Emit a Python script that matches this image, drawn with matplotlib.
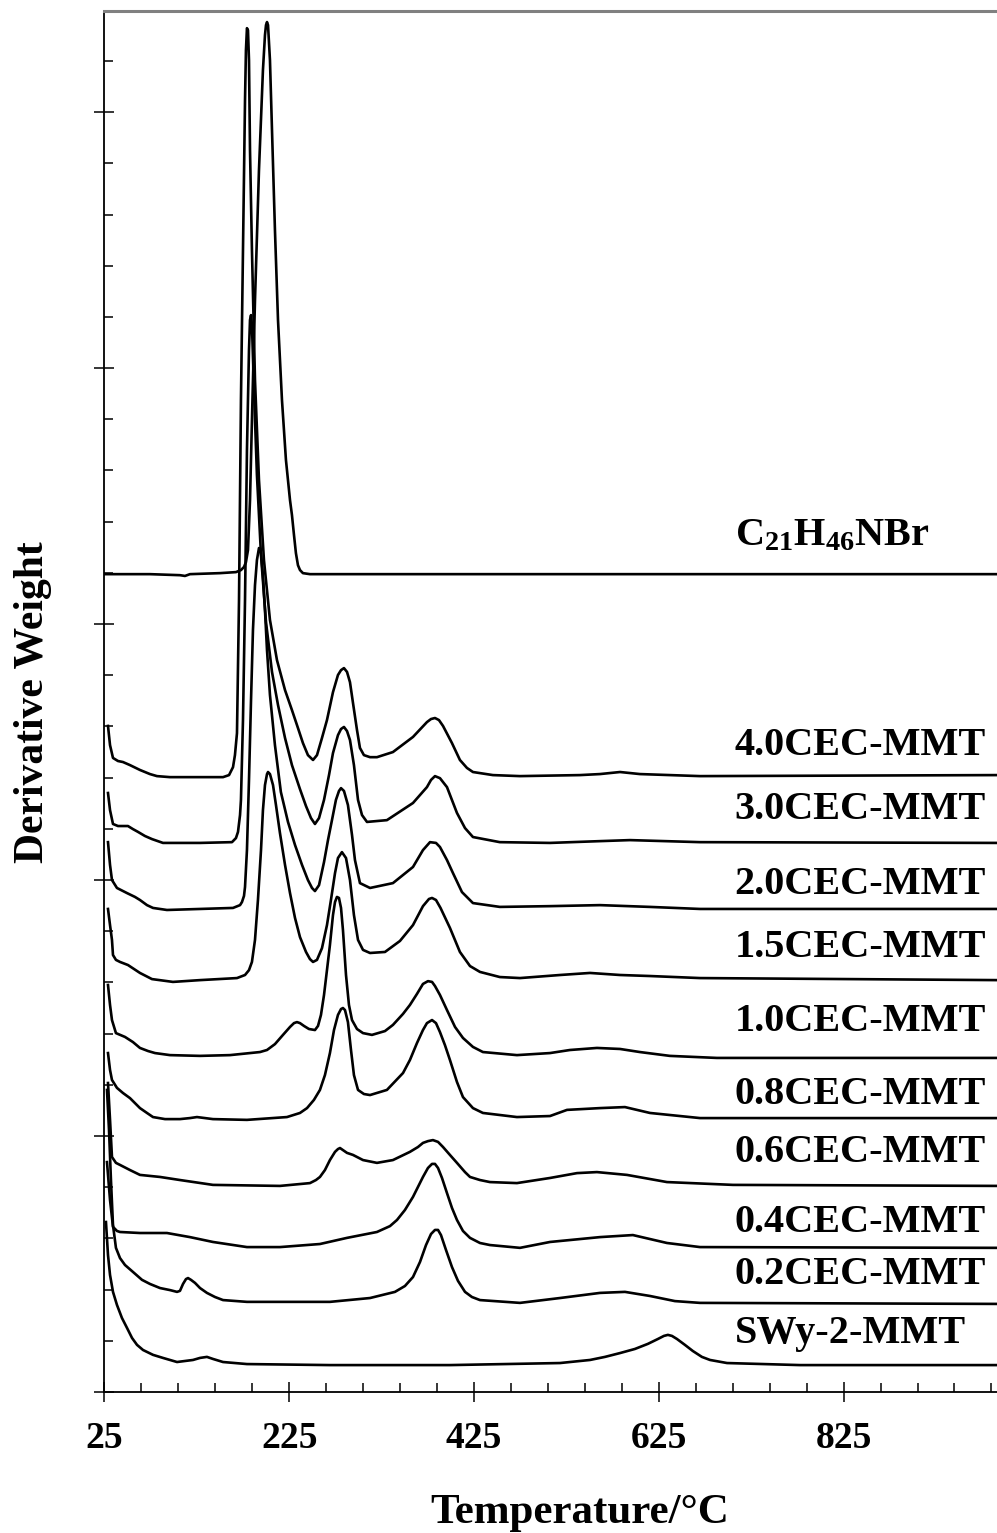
import matplotlib.pyplot as plt
import numpy as np

plt.rcParams['font.family'] = ['Liberation Serif', 'DejaVu Serif']
plt.rcParams['font.weight'] = 'bold'
plt.rcParams['mathtext.fontset'] = 'custom'
plt.rcParams['mathtext.rm'] = 'Liberation Serif:bold'
plt.rcParams['mathtext.it'] = 'Liberation Serif:bold'
plt.rcParams['mathtext.bf'] = 'Liberation Serif:bold'
plt.rcParams['mathtext.default'] = 'rm'

# DTG curves, stacked (temperature in degC, derivative weight in a.u.)
t_c21 = [25.5, 74.2, 106.7, 112.1, 117.5, 150.0, 167.3, 172.7, 176.0, 178.1, 180.3, 182.5, 184.6, 187.9,
         192.2, 196.5, 198.7, 199.8, 200.9, 202.0, 204.1, 206.3, 209.5, 212.8, 217.1, 221.4, 225.8,
         227.9, 230.1, 232.2, 234.4, 236.6, 239.8, 247.4, 991]
y_c21 = [31.95, 31.95, 31.91, 31.88, 31.95, 31.99, 32.03, 32.11, 32.23, 32.42, 32.89, 34.84, 37.97, 42.66,
         47.73, 51.64, 53.01, 53.40, 53.52, 53.40, 52.03, 49.30, 45.39, 41.88, 38.75, 36.41, 34.84,
         34.26, 33.48, 32.77, 32.30, 32.11, 31.99, 31.95, 31.95]

t_40 = [28.8, 31.0, 34.2, 39.6, 45.0, 52.6, 63.4, 74.2, 81.8, 95.9, 128.4, 153.3, 159.8, 164.1, 166.2,
        168.4, 170.6, 172.7, 174.9, 177.1, 178.1, 179.2, 180.3, 181.4, 182.5, 184.6, 187.9, 192.2,
        197.6, 204.1, 211.7, 220.4, 227.9, 234.4, 239.8, 245.2, 250.7, 255.0, 260.4, 265.8, 272.3,
        277.7, 281.0, 284.2, 287.5, 290.7, 294.0, 298.3, 301.5, 305.8, 312.4, 319.9, 337.2, 358.9,
        374.0, 378.4, 382.7, 387.0, 391.4, 401.1, 409.7, 417.3, 423.8, 445.4, 474.7, 539.6, 561.3,
        583.0, 604.5, 669.6, 991]
y_40 = [26.02, 25.27, 24.77, 24.65, 24.61, 24.49, 24.30, 24.14, 24.06, 24.02, 24.02, 24.02, 24.10, 24.41, 24.88,
        25.74, 30.94, 38.75, 44.61, 50.47, 52.42, 53.28, 53.20, 52.03, 48.52, 44.61, 39.53, 35.63,
        32.50, 30.16, 28.59, 27.42, 26.64, 25.94, 25.35, 24.88, 24.69, 24.88, 25.55, 26.25, 27.34,
        28.01, 28.20, 28.28, 28.13, 27.73, 26.91, 25.86, 25.16, 24.88, 24.80, 24.80, 25.0, 25.59,
        26.17, 26.29, 26.33, 26.25, 26.02, 25.35, 24.69, 24.38, 24.22, 24.10, 24.06, 24.10, 24.14,
        24.22, 24.14, 24.06, 24.10]

t_30 = [28.8, 31.0, 34.2, 39.6, 45.0, 50.4, 55.8, 61.3, 68.8, 76.4, 88.3, 128.4, 163.0, 167.3, 169.5,
        171.7, 172.7, 174.9, 177.1, 179.2, 181.4, 182.5, 183.6, 184.6, 186.8, 190.0, 194.4, 199.8,
        206.3, 212.8, 220.4, 227.9, 236.6, 243.1, 248.5, 252.8, 257.2, 262.6, 268.0, 272.3, 277.7,
        281.0, 284.2, 287.5, 290.7, 295.0, 299.4, 303.7, 309.1, 330.7, 358.9, 374.0, 378.4, 382.7,
        388.1, 395.7, 406.5, 415.2, 423.8, 452.9, 507.2, 561.3, 593.7, 669.6, 991]
y_30 = [23.40, 22.73, 22.19, 22.11, 22.11, 22.11, 21.99, 21.88, 21.72, 21.60, 21.45, 21.45, 21.48, 21.64, 21.88,
        22.54, 23.13, 26.25, 30.94, 36.80, 40.70, 41.88, 42.07, 41.68, 39.14, 35.82, 32.70, 30.08,
        28.13, 26.84, 25.55, 24.49, 23.55, 22.89, 22.42, 22.19, 22.42, 23.13, 24.10, 24.96, 25.66,
        25.90, 25.98, 25.82, 25.47, 24.49, 23.13, 22.54, 22.27, 22.34, 23.01, 23.63, 23.91, 24.06,
        23.98, 23.63, 22.62, 22.03, 21.68, 21.48, 21.45, 21.52, 21.56, 21.48, 21.45]

t_20 = [28.8, 31.0, 33.1, 38.5, 49.4, 58.0, 63.4, 71.0, 77.5, 92.6, 164.1, 171.7, 173.8, 176.0, 177.1,
        179.2, 181.4, 183.6, 185.7, 187.9, 190.0, 192.2, 194.4, 196.5, 198.7, 200.9, 204.1, 209.5,
        215.9, 223.6, 231.2, 238.8, 245.2, 249.6, 252.8, 257.2, 262.6, 266.9, 271.2, 275.5, 278.8,
        281.0, 284.2, 288.5, 292.9, 296.1, 301.5, 312.4, 337.2, 358.9, 369.7, 377.3, 383.8, 388.1,
        395.7, 402.2, 411.9, 423.8, 452.9, 507.2, 561.3, 615.4, 669.6, 991]
y_20 = [21.48, 20.59, 20.0, 19.69, 19.49, 19.34, 19.22, 19.02, 18.91, 18.83, 18.91, 19.02, 19.14, 19.38, 19.73,
        21.17, 23.91, 27.03, 29.77, 31.52, 32.50, 32.97, 32.77, 31.91, 30.55, 28.98, 27.23, 25.27,
        23.44, 22.27, 21.37, 20.59, 20.0, 19.69, 19.57, 19.80, 20.70, 21.56, 22.34, 23.13, 23.48,
        23.59, 23.48, 22.93, 21.76, 20.78, 19.88, 19.69, 19.88, 20.51, 21.17, 21.48, 21.45, 21.29,
        20.78, 20.27, 19.53, 19.10, 18.95, 18.98, 19.02, 18.95, 18.87, 18.87]

t_15 = [28.8, 31.0, 33.1, 34.2, 37.4, 41.8, 50.4, 63.4, 76.4, 99.1, 128.4, 168.4, 177.1, 181.4, 184.6,
        187.9, 191.1, 194.4, 196.5, 198.7, 200.9, 202.0, 204.1, 207.4, 210.6, 214.9, 220.4, 225.8,
        231.2, 236.6, 243.1, 247.4, 250.7, 255.0, 260.4, 265.8, 270.1, 274.5, 277.7, 282.0, 286.4,
        290.7, 295.0, 299.4, 304.8, 312.4, 328.6, 344.8, 358.9, 369.7, 376.2, 379.5, 383.8, 388.7,
        398.9, 409.7, 420.6, 431.4, 452.9, 474.7, 518.0, 550.5, 583.0, 615.4, 669.6, 991]
y_15 = [18.87, 18.24, 17.66, 17.07, 16.88, 16.80, 16.68, 16.37, 16.13, 16.02, 16.09, 16.17, 16.29, 16.48, 16.80,
        17.66, 19.22, 21.17, 22.73, 23.71, 24.14, 24.22, 24.14, 23.71, 22.93, 21.84, 20.59, 19.49,
        18.52, 17.77, 17.19, 16.91, 16.80, 16.88, 17.34, 18.24, 19.22, 20.27, 20.86, 21.09, 20.86,
        20.0, 18.63, 17.66, 17.27, 17.15, 17.19, 17.62, 18.24, 18.98, 19.26, 19.30, 19.22, 18.91,
        18.13, 17.19, 16.64, 16.41, 16.21, 16.17, 16.29, 16.37, 16.29, 16.25, 16.17, 16.09]

t_10 = [28.8, 31.0, 33.1, 37.4, 47.2, 55.8, 63.4, 72.1, 79.7, 95.9, 128.4, 160.8, 182.5, 193.3, 200.9,
        209.5, 218.2, 225.8, 230.1, 233.3, 236.6, 240.9, 246.3, 252.8, 256.1, 259.3, 262.6, 265.8,
        269.0, 272.3, 274.5, 276.6, 278.8, 281.0, 283.1, 286.4, 289.6, 292.9, 298.3, 304.8, 314.5,
        328.6, 337.2, 348.1, 355.6, 363.2, 369.7, 375.1, 379.5, 382.7, 388.1, 395.7, 404.4, 413.0,
        423.8, 434.6, 471.4, 507.2, 528.8, 558.0, 583.0, 604.5, 636.9, 687.8, 991]
y_10 = [15.90, 15.12, 14.53, 14.02, 13.87, 13.67, 13.44, 13.32, 13.24, 13.16, 13.13, 13.16, 13.24, 13.28, 13.36,
        13.59, 13.95, 14.26, 14.41, 14.45, 14.41, 14.30, 14.18, 14.14, 14.30, 14.73, 15.51, 16.48,
        17.46, 18.63, 19.14, 19.34, 19.30, 18.91, 18.05, 16.29, 15.12, 14.53, 14.18, 14.02, 13.95,
        14.10, 14.34, 14.77, 15.12, 15.55, 15.94, 16.05, 16.02, 15.86, 15.51, 14.92, 14.26, 13.83,
        13.48, 13.28, 13.16, 13.24, 13.36, 13.44, 13.40, 13.28, 13.13, 13.05, 13.05]

t_08 = [28.8, 31.0, 33.1, 38.5, 45.0, 52.6, 63.4, 71.0, 77.5, 90.5, 106.7, 117.5, 125.1, 133.8, 142.4,
        179.2, 222.5, 236.6, 244.2, 251.7, 258.2, 263.6, 269.0, 273.4, 277.7, 281.0, 283.1, 285.3,
        288.5, 291.8, 295.0, 299.4, 305.8, 312.4, 330.7, 348.1, 355.6, 363.2, 369.7, 374.0, 379.5,
        383.8, 388.1, 393.5, 398.9, 406.5, 413.0, 423.8, 434.6, 471.4, 507.2, 525.6, 561.3, 588.3,
        615.4, 669.6, 991]
y_08 = [13.24, 12.58, 12.19, 11.88, 11.68, 11.48, 11.09, 10.90, 10.74, 10.66, 10.66, 10.70, 10.74, 10.70, 10.66,
        10.63, 10.74, 10.90, 11.09, 11.41, 11.80, 12.38, 13.24, 14.14, 14.73, 14.96, 15.0, 14.92,
        14.45, 13.36, 12.38, 11.80, 11.64, 11.60, 11.80, 12.46, 12.97, 13.63, 14.14, 14.41, 14.53,
        14.41, 14.06, 13.55, 12.97, 12.11, 11.52, 11.09, 10.90, 10.74, 10.78, 11.02, 11.09, 11.13,
        10.90, 10.70, 10.70]

t_06 = [28.8, 31.0, 33.1, 37.4, 41.8, 52.6, 63.4, 85.1, 106.7, 142.4, 214.9, 247.4, 253.9, 258.2, 263.6,
        269.0, 274.5, 277.7, 279.9, 283.1, 287.5, 294.0, 304.8, 319.9, 337.2, 355.6, 364.3, 369.7,
        375.1, 380.5, 386.0, 391.4, 398.9, 406.5, 415.2, 420.6, 431.4, 442.2, 471.4, 507.2, 536.4,
        558.0, 590.5, 633.8, 705.2, 991]
y_06 = [12.07, 10.63, 9.18, 8.95, 8.87, 8.67, 8.48, 8.40, 8.28, 8.09, 8.05, 8.16, 8.28, 8.40, 8.67,
        9.06, 9.38, 9.49, 9.53, 9.45, 9.34, 9.26, 9.06, 8.95, 9.06, 9.38, 9.57, 9.73,
        9.80, 9.84, 9.77, 9.57, 9.26, 8.95, 8.59, 8.40, 8.28, 8.20, 8.16, 8.36, 8.55,
        8.59, 8.48, 8.20, 8.09, 8.05]

t_04 = [27.7, 31.0, 34.2, 38.5, 41.8, 63.4, 92.6, 117.5, 142.4, 179.2, 214.9, 258.2, 287.5, 319.9, 334.0,
        341.6, 350.2, 358.9, 364.3, 369.7, 375.1, 379.5, 382.7, 386.0, 390.3, 395.7, 401.1, 406.5,
        413.0, 420.6, 431.4, 442.2, 474.7, 507.2, 561.3, 596.9, 633.8, 669.6, 991]
y_04 = [8.98, 7.50, 6.45, 6.29, 6.25, 6.21, 6.21, 6.05, 5.86, 5.66, 5.66, 5.78, 6.02, 6.25, 6.48,
        6.72, 7.11, 7.62, 8.01, 8.40, 8.75, 8.91, 8.91, 8.75, 8.36, 7.77, 7.19, 6.72,
        6.29, 6.02, 5.82, 5.74, 5.63, 5.86, 6.05, 6.13, 5.82, 5.66, 5.63]

t_02 = [27.7, 29.9, 32.0, 34.2, 37.4, 41.8, 47.2, 55.8, 65.6, 74.2, 85.1, 95.9, 103.5, 106.7, 110.0,
        113.2, 115.4, 118.6, 123.0, 128.4, 135.9, 144.6, 153.3, 179.2, 269.0, 312.4, 339.4, 350.2,
        358.9, 366.5, 373.0, 378.4, 382.7, 386.0, 389.2, 394.6, 401.1, 407.6, 415.2, 422.7, 431.4,
        474.7, 518.0, 561.3, 588.3, 615.4, 642.4, 669.6, 991]
y_02 = [11.80, 10.23, 8.28, 6.52, 5.63, 5.23, 4.96, 4.69, 4.38, 4.22, 4.06, 3.98, 3.91, 3.95, 4.22,
        4.41, 4.45, 4.38, 4.26, 4.06, 3.87, 3.71, 3.59, 3.52, 3.52, 3.67, 3.91, 4.14,
        4.49, 5.08, 5.74, 6.17, 6.33, 6.33, 6.13, 5.55, 4.88, 4.34, 3.91, 3.71, 3.59,
        3.48, 3.67, 3.87, 3.91, 3.75, 3.55, 3.48, 3.44]

t_swy = [26.6, 28.8, 31.0, 34.2, 38.5, 43.9, 49.4, 54.8, 60.2, 66.7, 77.5, 88.3, 103.5, 112.1, 120.8,
         128.4, 135.9, 142.4, 153.3, 179.2, 269.0, 398.9, 518.0, 550.5, 566.7, 583.0, 599.1, 613.2,
         624.0, 630.5, 634.8, 639.2, 644.6, 653.2, 661.8, 671.6, 680.4, 698.8, 777.8, 991]
y_swy = [6.64, 5.35, 4.57, 3.91, 3.40, 2.89, 2.50, 2.11, 1.84, 1.64, 1.45, 1.33, 1.17, 1.21, 1.25,
         1.33, 1.37, 1.29, 1.17, 1.09, 1.05, 1.05, 1.13, 1.25, 1.37, 1.52, 1.68, 1.88,
         2.07, 2.19, 2.23, 2.19, 2.07, 1.84, 1.60, 1.37, 1.25, 1.13, 1.05, 1.05]

labels = ['C$_{21}$H$_{46}$NBr', '4.0CEC-MMT', '3.0CEC-MMT', '2.0CEC-MMT', '1.5CEC-MMT',
          '1.0CEC-MMT', '0.8CEC-MMT', '0.6CEC-MMT', '0.4CEC-MMT', '0.2CEC-MMT', 'SWy-2-MMT']
label_y = [33.09, 24.88, 22.38, 19.45, 16.99, 14.10, 11.25, 8.98, 6.25, 4.22, 1.91]
label_x = 707

curves = [(t_c21, y_c21), (t_40, y_40), (t_30, y_30), (t_20, y_20), (t_15, y_15),
          (t_10, y_10), (t_08, y_08), (t_06, y_06), (t_04, y_04), (t_02, y_02), (t_swy, y_swy)]

fig = plt.figure(figsize=(9.97, 15.33), dpi=100)
ax = fig.add_axes([0.1048, 0.092, 0.8952, 0.9008])

for (t, y), lab, ly in zip(curves, labels, label_y):
    ax.plot(t, y, color='black', lw=1.9, solid_joinstyle='round')
    ax.text(label_x, ly, lab, fontsize=29, fontweight='bold', ha='left', va='baseline')

ax.set_xlim(25, 991)
ax.set_ylim(0, 53.95)
ax.set_xticks([25, 225, 425, 625, 825])
ax.set_xticks(np.arange(65, 991, 40), minor=True)
ax.set_yticks(np.arange(0, 51, 10))
ax.set_yticks(np.arange(0, 54, 2), minor=True)
ax.set_yticklabels([])
ax.tick_params(which='major', direction='inout', length=14.4, width=1.1, labelsize=27, pad=14)
ax.tick_params(which='minor', direction='in', length=6.5, width=1.1)
for lab in ax.get_xticklabels():
    lab.set_fontweight('bold')

ax.spines['right'].set_visible(False)
ax.spines['top'].set_color('#808080')
ax.spines['top'].set_linewidth(2.2)
ax.spines['left'].set_linewidth(1.3)
ax.spines['bottom'].set_linewidth(1.3)

fig.text(0.5817, 0.0065, 'Temperature/°C', fontsize=31, fontweight='bold', ha='center', va='baseline')
fig.text(0.033, 0.542, 'Derivative Weight', fontsize=30, fontweight='bold', rotation=90,
         ha='center', va='center')

fig.savefig('out.png', dpi=100)
